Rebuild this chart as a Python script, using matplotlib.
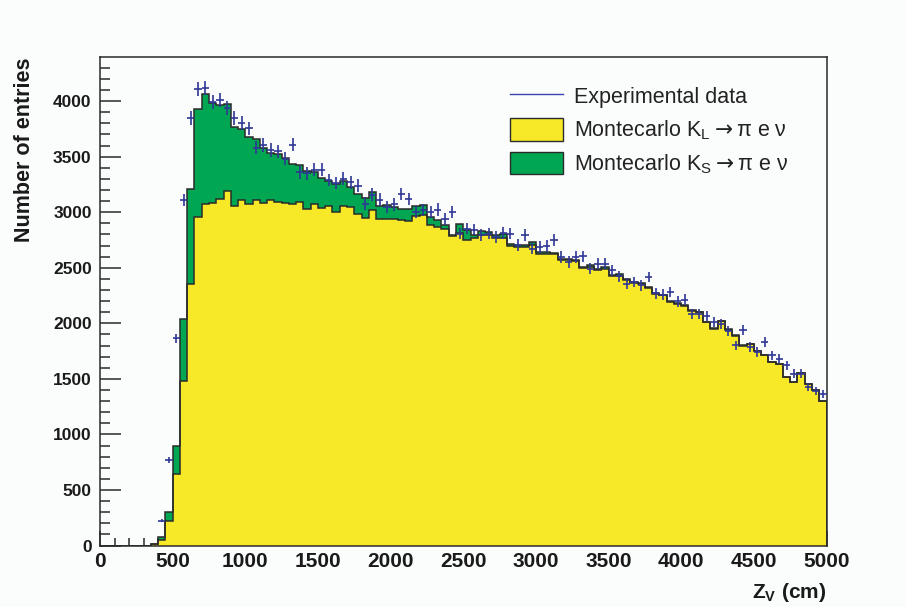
import numpy as np
import matplotlib
matplotlib.use("Agg")
import matplotlib.pyplot as plt
from matplotlib.patches import Patch
from matplotlib.lines import Line2D

# Histogram binning of the decay vertex position Z_V (cm): 100 bins of 50 cm
bin_edges = np.arange(0, 5001, 50)

# Monte Carlo K_L -> pi e nu entries per bin
mc_kl = [
    0, 0, 0, 0, 0, 0, 0, 10, 53, 219,
    640, 1480, 2357, 2960, 3078, 3084, 3123, 3189, 3060, 3108,
    3078, 3114, 3084, 3114, 3090, 3084, 3078, 3093, 3033, 3075,
    3038, 3060, 3003, 3058, 3045, 2988, 2950, 3024, 2935, 2940,
    2935, 2930, 2925, 2970, 2975, 2883, 2868, 2853, 2784, 2814,
    2748, 2772, 2793, 2793, 2772, 2772, 2694, 2688, 2688, 2703,
    2622, 2622, 2622, 2568, 2568, 2565, 2502, 2508, 2483, 2492,
    2423, 2423, 2393, 2363, 2355, 2320, 2265, 2252, 2195, 2175,
    2160, 2115, 2100, 2010, 1950, 2019, 1941, 1890, 1800, 1810,
    1750, 1711, 1651, 1630, 1515, 1471, 1552, 1450, 1396, 1297,
]

# Monte Carlo K_S -> pi e nu entries per bin (stacked on top of K_L)
mc_ks = [
    0, 0, 0, 0, 0, 0, 0, 3, 27, 81,
    260, 560, 856, 968, 982, 901, 841, 781, 703, 643,
    595, 547, 490, 416, 435, 400, 360, 330, 342, 285,
    267, 220, 255, 227, 180, 174, 180, 162, 119, 128,
    110, 100, 105, 84, 94, 75, 66, 30, 9, 78,
    96, 21, 39, 30, 21, 36, 24, 15, 15, 30,
    21, 21, 12, 15, 15, 9, 6, 15, 9, 16,
    9, 24, 9, 9, 8, 7, 7, 6, 5, 5,
    5, 5, 5, 5, 5, 5, 5, 5, 5, 4,
    4, 4, 4, 4, 4, 4, 4, 4, 4, 4,
]

# Experimental entries per bin
data_counts = [
    0, 0, 0, 0, 0, 0, 0, 0, 225, 766,
    1865, 3110, 3845, 4110, 4115, 3995, 4010, 3935, 3845, 3805,
    3755, 3580, 3605, 3560, 3548, 3480, 3608, 3360, 3350, 3383,
    3383, 3290, 3264, 3303, 3270, 3240, 3078, 3158, 3114, 3046,
    3070, 3165, 3118, 3003, 3018, 3003, 3024, 2943, 3003, 2808,
    2853, 2844, 2793, 2808, 2778, 2814, 2808, 2703, 2793, 2673,
    2688, 2694, 2748, 2597, 2552, 2597, 2604, 2492, 2538, 2538,
    2477, 2423, 2357, 2372, 2342, 2417, 2270, 2257, 2282, 2198,
    2213, 2085, 2081, 2063, 2012, 1991, 1931, 1802, 1943, 1787,
    1742, 1832, 1712, 1682, 1622, 1547, 1547, 1426, 1390, 1366,
]

x_ticks = list(range(0, 5001, 500))
y_ticks = list(range(0, 4001, 500))

YELLOW = "#f8e928"
GREEN = "#00a651"
OUTLINE = "#2b2b2b"
DATA_BLUE = "#2f3796"
BG = "#fbfcfc"

plt.rcParams["font.family"] = ["Liberation Sans", "DejaVu Sans"]

fig = plt.figure(figsize=(9.06, 6.07), dpi=100, facecolor=BG)
W, H = 906, 607
ax = fig.add_axes([100 / W, 1 - 545.5 / H, 726.5 / W, 488.5 / H], facecolor=BG)

kl = np.array(mc_kl, dtype=float)
ks = np.array(mc_ks, dtype=float)
total = kl + ks
data = np.array(data_counts, dtype=float)

# stacked histograms: total (K_L + K_S) in green, K_L in yellow on top of it
ax.stairs(total, bin_edges, baseline=0, fill=True, color=GREEN, zorder=1.0)
ax.stairs(kl, bin_edges, baseline=0, fill=True, color=YELLOW, zorder=1.1)
ax.stairs(total, bin_edges, baseline=0, fill=False, color=OUTLINE, lw=1.1, zorder=1.2)
ax.stairs(kl, bin_edges, baseline=0, fill=False, color=OUTLINE, lw=1.1, zorder=1.3)

# experimental points with Poisson errors and bin-width horizontal bars
centers = 0.5 * (bin_edges[:-1] + bin_edges[1:])
half_w = 0.5 * np.diff(bin_edges)
mask = data > 0
ax.errorbar(centers[mask], data[mask], xerr=half_w[mask], yerr=np.sqrt(data[mask]),
            fmt="none", ecolor=DATA_BLUE, elinewidth=1.2, capsize=0, zorder=3)

ax.set_xlim(0, 5000)
ax.set_ylim(0, 4397)
ax.set_axisbelow(True)

ax.set_xticks(x_ticks)
ax.set_yticks(y_ticks)
ax.set_xticks(np.arange(0, 5001, 100), minor=True)
ax.set_yticks(np.arange(0, 4301, 100), minor=True)
ax.set_xticklabels([str(v) for v in x_ticks], fontsize=15, fontweight="bold")
ax.set_yticklabels([str(v) for v in y_ticks], fontsize=12.5, fontweight="bold")

ax.tick_params(axis="both", which="both", direction="in", color=OUTLINE, width=1.1,
               top=False, right=False, labelcolor="#1a1a1a")
ax.tick_params(axis="y", which="major", length=15, pad=6)
ax.tick_params(axis="y", which="minor", length=7.5)
ax.tick_params(axis="x", which="major", length=11, pad=5)
ax.tick_params(axis="x", which="minor", length=5.5)

for sp in ax.spines.values():
    sp.set_color(OUTLINE)
    sp.set_linewidth(1.1)

ax.set_xlabel("Z$_\\mathregular{V}$ (cm)", fontsize=15, fontweight="bold", color="#1a1a1a")
ax.xaxis.set_label_coords(1.0, (545.5 - 598) / 488.5)
ax.xaxis.label.set_ha("right")
ax.xaxis.label.set_va("baseline")

ax.set_ylabel("Number of entries", fontsize=15.5, fontweight="bold", color="#1a1a1a")
ax.yaxis.label.set_rotation_mode("default")
ax.yaxis.label.set_ha("center")
ax.yaxis.label.set_va("top")
ax.yaxis.set_label_coords((25 - 100) / 726.5, (545.5 - 57) / 488.5)

handles = [
    Line2D([], [], color="#3a44b0", lw=1.0),
    Patch(facecolor=YELLOW, edgecolor=OUTLINE, lw=1.0),
    Patch(facecolor=GREEN, edgecolor=OUTLINE, lw=1.0),
]
labels = [
    "Experimental data",
    "Montecarlo K$_\\mathregular{L}$$\\rightarrow$π e ν",
    "Montecarlo K$_\\mathregular{S}$$\\rightarrow$π e ν",
]
fontsize_leg = 15.5
fs_px = fontsize_leg * 100 / 72
leg = fig.legend(handles, labels, loc="upper left",
                 bbox_to_anchor=(510 / W, 1 - 85 / H), frameon=False,
                 fontsize=fontsize_leg, borderpad=0, borderaxespad=0,
                 handlelength=53 / fs_px, handleheight=26 / fs_px,
                 handletextpad=11 / fs_px, labelspacing=10 / fs_px)
for t in leg.get_texts():
    t.set_color("#222222")

fig.savefig("out.png", dpi=100, facecolor=BG)
